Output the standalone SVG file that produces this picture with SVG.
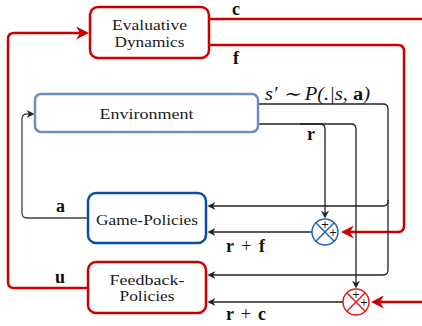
<svg xmlns="http://www.w3.org/2000/svg" width="422" height="326" viewBox="0 0 422 326">
<style>
.box{fill:#fff;stroke-width:2.5}
.red{stroke:#cc0000}
.env{stroke:#6c8ebf}
.gp{stroke:#0a4f9e}
.lbl{font-family:"Liberation Serif","Times New Roman",serif;font-size:15.5px;fill:#1a1a1a;text-anchor:middle}
.math{font-family:"Liberation Serif",serif;font-size:18px;fill:#111;font-weight:bold}
.it{font-family:"Liberation Serif",serif;font-size:18px;fill:#111;font-style:italic}
.rl{fill:none;stroke:#cc0000;stroke-width:2.5;stroke-linejoin:round}
.bl{fill:none;stroke:#222;stroke-width:1.3;stroke-linejoin:round}
.plus{font-family:"DejaVu Sans",sans-serif;font-size:10px;fill:#111;text-anchor:middle}
</style>
<defs>
<marker id="ab" viewBox="0 0 10 10" refX="3" refY="5" markerWidth="8" markerHeight="8" markerUnits="userSpaceOnUse" orient="auto"><path d="M0,0 L10,5 L0,10 L3,5 Z" fill="#222"/></marker>
<marker id="ar" viewBox="0 0 10 10" refX="3" refY="5" markerWidth="13" markerHeight="13" markerUnits="userSpaceOnUse" orient="auto"><path d="M0,0 L10,5 L0,10 L3,5 Z" fill="#cc0000"/></marker>
</defs>
<g id="connectors">
<path class="rl" d="M209,19 H422"/>
<path class="rl" d="M209,45 H398 Q404,45 404,51 V226 Q404,232 398,232 H350" marker-end="url(#ar)"/>
<path class="rl" d="M422,302 H380" marker-end="url(#ar)"/>
<path class="rl" d="M88,288 H14 Q8,288 8,282 V39 Q8,33 14,33 H80" marker-end="url(#ar)"/>
<path class="bl" d="M258,104 H383 Q388,104 388,109 V201 Q388,206 383,206 H213" marker-end="url(#ab)"/>
<path class="bl" d="M388,200 V270 Q388,275 383,275 H213" marker-end="url(#ab)"/>
<path class="bl" d="M258,124 H351 Q356,124 356,129 V283" marker-end="url(#ab)"/>
<path class="bl" d="M300,124 H320 Q325,124 325,129 V213" marker-end="url(#ab)"/>
<path class="bl" d="M312,232 H213" marker-end="url(#ab)"/>
<path class="bl" d="M343,302 H213" marker-end="url(#ab)"/>
<path class="bl" style="stroke:#444" d="M88,218 H27 Q22,218 22,213 V119 Q22,114 27,114 H29" marker-end="url(#ab)"/>
<text class="math" x="232" y="15">c</text>
<text class="math" x="233" y="64">f</text>
<text class="it" x="265" y="100" textLength="105" lengthAdjust="spacingAndGlyphs">s′ ∼ P(.|s, <tspan style="font-style:normal;font-weight:bold">a</tspan>)</text>
<text class="math" x="307" y="140">r</text>
<text class="math" x="56" y="212">a</text>
<text class="math" x="55" y="283">u</text>
<text class="math" x="226" y="252" textLength="39" lengthAdjust="spacing">r <tspan style="font-weight:normal">+</tspan> f</text>
<text class="math" x="226" y="320" textLength="40" lengthAdjust="spacing">r <tspan style="font-weight:normal">+</tspan> c</text>
</g>
<g id="evaluative-dynamics">
<rect class="box red" x="90" y="7" width="119" height="51" rx="8"/>
<text class="lbl" x="149.5" y="30" textLength="75" lengthAdjust="spacingAndGlyphs">Evaluative</text>
<text class="lbl" x="149.5" y="47" textLength="70" lengthAdjust="spacingAndGlyphs">Dynamics</text>
</g>
<g id="environment">
<rect class="box env" x="35" y="94" width="223" height="38" rx="6"/>
<text class="lbl" x="146.5" y="119" textLength="94" lengthAdjust="spacingAndGlyphs">Environment</text>
</g>
<g id="game-policies">
<rect class="box gp" x="88" y="193" width="118" height="50" rx="8"/>
<text class="lbl" x="147" y="225" textLength="102" lengthAdjust="spacingAndGlyphs">Game-Policies</text>
</g>
<g id="feedback-policies">
<rect class="box red" x="88" y="262" width="118" height="51" rx="8"/>
<text class="lbl" x="147" y="285" textLength="75" lengthAdjust="spacingAndGlyphs">Feedback-</text>
<text class="lbl" x="147" y="301" textLength="55" lengthAdjust="spacingAndGlyphs">Policies</text>
</g>
<g id="sum-blue">
<circle cx="325" cy="232" r="13" fill="#fff" stroke="#1f67b1" stroke-width="1.5"/>
<path d="M315.8,222.8 L334.2,241.2 M334.2,222.8 L315.8,241.2" stroke="#1f67b1" stroke-width="1.5"/>
<text class="plus" x="325" y="228">+</text>
<text class="plus" x="333" y="236">+</text>
</g>
<g id="sum-red">
<circle cx="356" cy="302" r="13" fill="#fff" stroke="#e02020" stroke-width="1.5"/>
<path d="M346.8,292.8 L365.2,311.2 M365.2,292.8 L346.8,311.2" stroke="#e02020" stroke-width="1.5"/>
<text class="plus" x="356" y="298">+</text>
<text class="plus" x="364" y="306">+</text>
</g>
</svg>
